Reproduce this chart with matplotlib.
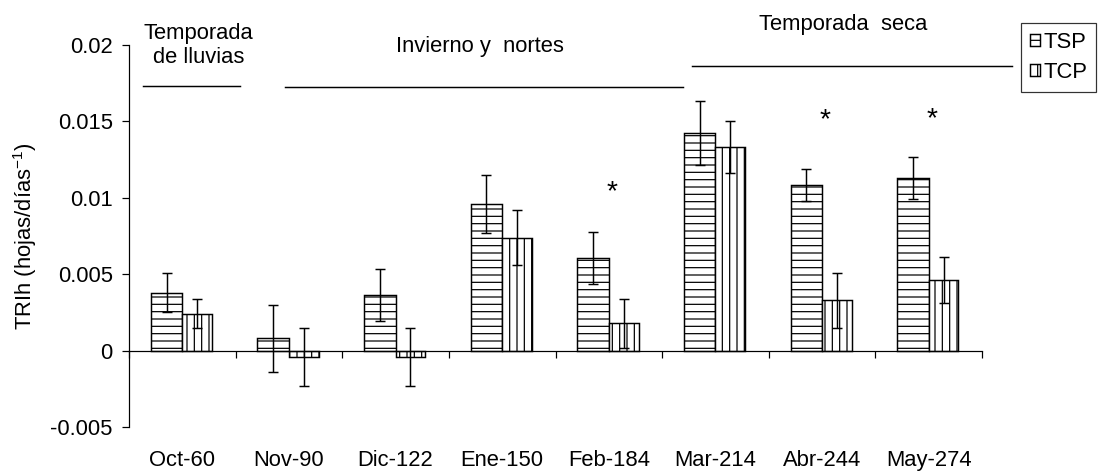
import numpy as np
import matplotlib
matplotlib.use("Agg")
import matplotlib.pyplot as plt
from matplotlib.ticker import FixedLocator, FuncFormatter

# ---------------- data ----------------
categories = ["Oct-60", "Nov-90", "Dic-122", "Ene-150", "Feb-184", "Mar-214", "Abr-244", "May-274"]
tsp = [0.0038, 0.0008, 0.00365, 0.0096, 0.00605, 0.01425, 0.01085, 0.0113]
tsp_err = [0.0013, 0.0022, 0.0017, 0.0019, 0.0017, 0.0021, 0.00105, 0.0014]
tcp = [0.0024, -0.0004, -0.0004, 0.0074, 0.0018, 0.01335, 0.0033, 0.0046]
tcp_err = [0.00095, 0.0019, 0.0019, 0.0018, 0.0016, 0.0017, 0.0018, 0.0015]
series_labels = ["TSP", "TCP"]
y_ticks = [-0.005, 0.0, 0.005, 0.01, 0.015, 0.02]

# significance marks (category index, height)
signif_idx = [4, 6, 7]
signif_y = [0.00994, 0.01463, 0.01468]

# seasons: label, label position (baseline of last line), line span
season_labels = ["Temporada\nde lluvias", "Invierno y  nortes", "Temporada  seca"]
season_text_x = [0.15, 2.79, 6.2]
season_text_y = [0.01882, 0.01956, 0.02098]
season_line_x0 = [-0.369, 0.963, 4.78]
season_line_x1 = [0.541, 4.694, 7.78]
season_line_y = [0.01732, 0.01726, 0.01865]

# ---------------- style ----------------
DPI = 88
W, H = 1098, 473
plt.rcParams["font.family"] = ["Liberation Sans", "DejaVu Sans"]
plt.rcParams["font.size"] = 18
plt.rcParams["hatch.linewidth"] = 1.0
plt.rcParams["hatch.color"] = "black"
plt.rcParams["mathtext.fontset"] = "custom"
plt.rcParams["mathtext.rm"] = "Liberation Sans"
plt.rcParams["mathtext.it"] = "Liberation Sans:italic"
plt.rcParams["mathtext.bf"] = "Liberation Sans:bold"

fig = plt.figure(figsize=(W / DPI, H / DPI), dpi=DPI)
ax = fig.add_axes([129 / W, 46 / H, (982 - 129) / W, (427 - 45) / H])

x = np.arange(len(categories))
ax.bar(x - 0.148, tsp, width=0.296, color="white", edgecolor="black",
       hatch="--", linewidth=1.2, label=series_labels[0], zorder=2)
ax.bar(x + 0.139, tcp, width=0.279, color="white", edgecolor="black",
       hatch="||", linewidth=1.2, label=series_labels[1], zorder=2)
ax.errorbar(x - 0.148, tsp, yerr=tsp_err, fmt="none", ecolor="black",
            elinewidth=1.2, capsize=3.7, capthick=1.2, zorder=3)
ax.errorbar(x + 0.139, tcp, yerr=tcp_err, fmt="none", ecolor="black",
            elinewidth=1.2, capsize=3.7, capthick=1.2, zorder=3)

for i, yv in zip(signif_idx, signif_y):
    ax.text(x[i] + 0.03, yv, "*", ha="center", va="baseline", fontsize=23)

for lab, tx, ty, x0, x1, ly in zip(season_labels, season_text_x, season_text_y,
                                   season_line_x0, season_line_x1, season_line_y):
    ax.text(tx, ty, lab, ha="center", va="baseline", multialignment="center",
            clip_on=False)
    ax.plot([x0, x1], [ly, ly], color="black", lw=1.2, clip_on=False)

ax.set_xlim(-0.5, len(categories) - 0.5)
ax.set_ylim(-0.005, 0.02)

ax.spines["top"].set_visible(False)
ax.spines["right"].set_visible(False)
ax.spines["bottom"].set_position(("data", 0))
ax.spines["left"].set_linewidth(1.0)
ax.spines["bottom"].set_linewidth(1.0)

ax.set_xticks(x)
ax.set_xticklabels(categories)
ax.set_xticks(np.arange(-0.5, len(categories)), minor=True)
ax.tick_params(axis="x", which="major", length=0, pad=81)
ax.tick_params(axis="x", which="minor", length=5.7, width=1.0, direction="out")

ax.yaxis.set_major_locator(FixedLocator(y_ticks))
ax.yaxis.set_major_formatter(FuncFormatter(lambda v, p: "%g" % v))
ax.tick_params(axis="y", length=5.7, width=1.0, direction="out", pad=7.5)

ax.set_ylabel("TRIh (hojas/días$^{-1}$)")
ax.yaxis.set_label_coords(-0.106, 0.5)

leg = fig.legend(loc="upper left", bbox_to_anchor=(1021 / W, 1 - 23.3 / H),
                 bbox_transform=fig.transFigure, frameon=True, fancybox=False,
                 edgecolor="black", handlelength=0.48, handleheight=0.48,
                 handletextpad=0.15, labelspacing=0.4, borderpad=0.4,
                 borderaxespad=0.0)
leg.get_frame().set_linewidth(1.0)

fig.savefig("out.png", dpi=DPI)
